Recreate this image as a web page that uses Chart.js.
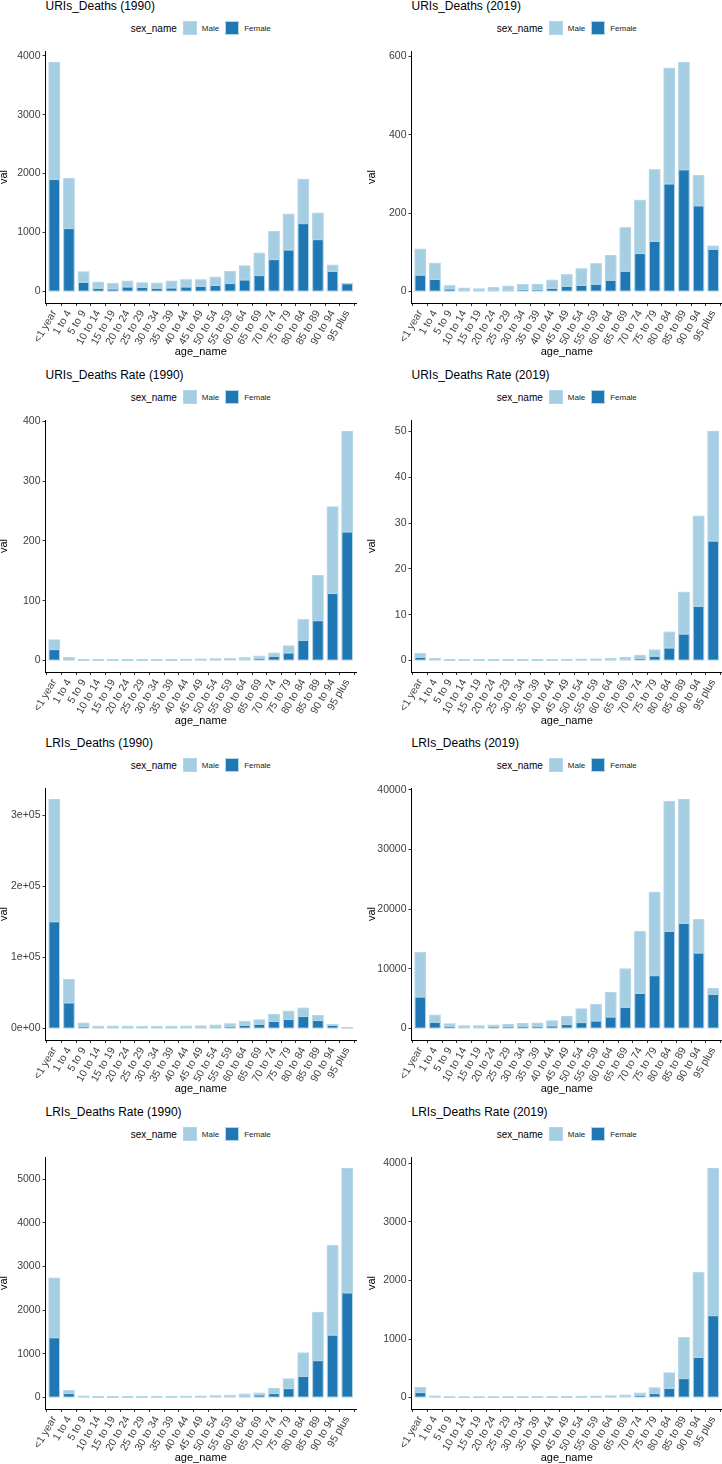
<!DOCTYPE html>
<html>
<head>
<meta charset="utf-8">
<script src="https://cdn.jsdelivr.net/npm/chart.js@4.4.1/dist/chart.umd.min.js"></script>
<style>
body { margin:0; background:#fff; width:722px; height:1464px; overflow:hidden; position:relative;
       font-family:"Liberation Sans", Arial, sans-serif; }
.panel { position:absolute; width:361px; height:368px; }
.panel canvas { position:absolute; left:0; top:0; }
.ttl { position:absolute; top:2px; font-size:12px; line-height:14px; color:#000; white-space:nowrap; }
.lgd { position:absolute; top:24px; height:14px; display:flex; align-items:center; justify-content:center; color:#000; }
.lgd .t { font-size:10px; margin-right:6px; }
.lgd .k { width:14px; height:14px; margin-right:5px; box-sizing:border-box; border:1px solid #B3D5E8; }
.lgd .l { font-size:8px; margin-right:6px; color:#222; }
</style>
</head>
<body>
<script>
// categories
const ageNames = ['<1 year','1 to 4','5 to 9','10 to 14','15 to 19','20 to 24','25 to 29','30 to 34','35 to 39',
  '40 to 44','45 to 49','50 to 54','55 to 59','60 to 64','65 to 69','70 to 74','75 to 79','80 to 84','85 to 89',
  '90 to 94','95 plus'];
const sexNames = ['Male', 'Female'];

// URIs deaths 1990
const uriDeaths1990Male   = [1985, 847, 176, 101, 90, 96, 74, 85, 113, 119, 108, 141, 203, 237, 378, 475, 604, 751, 446, 102, 3];
const uriDeaths1990Female = [1900, 1068, 157, 56, 45, 79, 73, 56, 62, 79, 90, 102, 136, 198, 271, 542, 706, 1152, 881, 344, 133];
const uriDeaths1990Ticks  = [0, 1000, 2000, 3000, 4000];
const uriDeaths1990Labels = ['0', '1000', '2000', '3000', '4000'];

// URIs deaths 2019
const uriDeaths2019Male   = [66, 41, 8.3, 5.1, 3.8, 6, 9.5, 13, 13, 20.6, 29.5, 42, 52.3, 63, 111, 136, 183, 295, 274, 77, 8];
const uriDeaths2019Female = [42, 31, 6.7, 3.3, 3, 4, 4, 5, 5, 8.4, 13.5, 16, 18.7, 29, 52, 97, 128, 275, 311, 219, 108];
const uriDeaths2019Ticks  = [0, 200, 400, 600];
const uriDeaths2019Labels = ['0', '200', '400', '600'];

// URIs death rate 1990
const uriRate1990Male   = [16.1, 2.2, 0.9, 0.7, 0.8, 0.8, 0.8, 0.9, 1.0, 1.1, 1.3, 1.5, 1.8, 2.2, 3.3, 5.0, 11.6, 34.4, 75.3, 144.7, 167.8];
const uriRate1990Female = [18.3, 2.8, 0.7, 0.5, 0.5, 0.6, 0.6, 0.6, 0.7, 0.9, 1.0, 1.3, 1.7, 2.3, 3.9, 7.2, 12.8, 33.9, 66.7, 112, 215];
const uriRate1990Ticks  = [0, 100, 200, 300, 400];
const uriRate1990Labels = ['0', '100', '200', '300', '400'];

// URIs death rate 2019
const uriRate2019Male   = [0.8, 0.22, 0.1, 0.09, 0.1, 0.1, 0.11, 0.12, 0.11, 0.12, 0.15, 0.16, 0.17, 0.24, 0.35, 0.6, 1.35, 3.44, 9.1, 19.65, 23.9];
const uriRate2019Female = [0.73, 0.22, 0.08, 0.07, 0.07, 0.08, 0.08, 0.08, 0.09, 0.1, 0.1, 0.12, 0.13, 0.18, 0.3, 0.5, 0.95, 2.76, 5.8, 11.85, 26.1];
const uriRate2019Ticks  = [0, 10, 20, 30, 40, 50];
const uriRate2019Labels = ['0', '10', '20', '30', '40', '50'];

// LRIs deaths 1990
const lriDeaths1990Male   = [172000, 32900, 4700, 1600, 1700, 1600, 1600, 1500, 1700, 1800, 2000, 2350, 3800, 5200, 6100, 9800, 11700, 11800, 7000, 900, 460];
const lriDeaths1990Female = [150400, 36200, 2800, 1400, 1500, 1400, 1300, 1300, 1300, 1500, 1600, 2350, 2800, 4700, 6100, 9900, 12700, 16900, 11300, 4700, 940];
const lriDeaths1990Ticks  = [0, 100000, 200000, 300000];
const lriDeaths1990Labels = ['0e+00', '1e+05', '2e+05', '3e+05'];

// LRIs deaths 2019
const lriDeaths2019Male   = [7420, 1170, 390, 230, 230, 230, 340, 450, 500, 830, 1340, 2290, 2740, 4080, 6420, 10330, 13950, 21770, 20760, 5580, 950];
const lriDeaths2019Female = [5300, 1060, 390, 220, 220, 330, 330, 390, 390, 450, 670, 1000, 1280, 1950, 3570, 5910, 8870, 16290, 17630, 12670, 5750];
const lriDeaths2019Ticks  = [0, 10000, 20000, 30000, 40000];
const lriDeaths2019Labels = ['0', '10000', '20000', '30000', '40000'];

// LRIs death rate 1990
const lriRate1990Male   = [1362, 69, 15, 11, 12, 12, 12, 12, 13, 15, 16, 20, 24, 38, 38, 114, 221, 533, 1103, 2047, 2846];
const lriRate1990Female = [1370, 91, 15, 9, 9, 10, 10, 11, 12, 13, 14, 20, 24, 38, 61, 91, 205, 487, 845, 1431, 2397];
const lriRate1990Ticks  = [0, 1000, 2000, 3000, 4000, 5000];
const lriRate1990Labels = ['0', '1000', '2000', '3000', '4000', '5000'];

// LRIs death rate 2019
const lriRate2019Male   = [86, 12, 5, 5, 5, 6, 5, 6, 7, 8, 9, 11, 13, 16, 23, 34, 97, 262, 700, 1445, 2515];
const lriRate2019Female = [85, 11, 5, 4, 4, 4, 5, 5, 5, 6, 7, 8, 9, 12, 17, 40, 68, 159, 324, 689, 1400];
const lriRate2019Ticks  = [0, 1000, 2000, 3000, 4000];
const lriRate2019Labels = ['0', '1000', '2000', '3000', '4000'];

const maleColor = '#A6CEE3';
const femaleColor = '#1F78B4';
const outlineColor = '#B3D5E8';

const panels = [
  { title: 'URIs_Deaths (1990)', male: uriDeaths1990Male, female: uriDeaths1990Female, ticks: uriDeaths1990Ticks, labels: uriDeaths1990Labels },
  { title: 'URIs_Deaths (2019)', male: uriDeaths2019Male, female: uriDeaths2019Female, ticks: uriDeaths2019Ticks, labels: uriDeaths2019Labels },
  { title: 'URIs_Deaths Rate (1990)', male: uriRate1990Male, female: uriRate1990Female, ticks: uriRate1990Ticks, labels: uriRate1990Labels },
  { title: 'URIs_Deaths Rate (2019)', male: uriRate2019Male, female: uriRate2019Female, ticks: uriRate2019Ticks, labels: uriRate2019Labels },
  { title: 'LRIs_Deaths (1990)', male: lriDeaths1990Male, female: lriDeaths1990Female, ticks: lriDeaths1990Ticks, labels: lriDeaths1990Labels },
  { title: 'LRIs_Deaths (2019)', male: lriDeaths2019Male, female: lriDeaths2019Female, ticks: lriDeaths2019Ticks, labels: lriDeaths2019Labels },
  { title: 'LRIs_Deaths Rate (1990)', male: lriRate1990Male, female: lriRate1990Female, ticks: lriRate1990Ticks, labels: lriRate1990Labels },
  { title: 'LRIs_Deaths Rate (2019)', male: lriRate2019Male, female: lriRate2019Female, ticks: lriRate2019Ticks, labels: lriRate2019Labels }
];

const colX = [0, 361];
const rowY = [-3, 366, 734, 1103];
const axisFont = { family: '"Liberation Sans", Arial, sans-serif', size: 10.5 };

// thin outline round every bar, drawn like ggplot's colour= (so tiny bars still show as a line)
const barOutline = {
  id: 'barOutline',
  afterDatasetsDraw(chart) {
    const ctx = chart.ctx;
    ctx.save();
    ctx.strokeStyle = outlineColor;
    ctx.lineWidth = 1;
    chart.data.datasets.forEach((ds, di) => {
      chart.getDatasetMeta(di).data.forEach(bar => {
        const { x, y, base, width } = bar.getProps(['x', 'y', 'base', 'width'], true);
        ctx.strokeRect(x - width / 2, Math.min(y, base), width, Math.abs(base - y));
      });
    });
    ctx.restore();
  }
};

function makePanel(p, idx) {
  const col = idx % 2, row = Math.floor(idx / 2);
  const plotL = col === 0 ? 45.5 : 50.5;
  const plotR = col === 0 ? 356 : 361;

  const div = document.createElement('div');
  div.className = 'panel';
  div.style.left = colX[col] + 'px';
  div.style.top = rowY[row] + 'px';

  const ttl = document.createElement('div');
  ttl.className = 'ttl';
  ttl.style.left = plotL + 'px';
  ttl.textContent = p.title;
  div.appendChild(ttl);

  const lgd = document.createElement('div');
  lgd.className = 'lgd';
  lgd.style.left = plotL + 'px';
  lgd.style.width = (plotR - plotL) + 'px';
  lgd.innerHTML = '<span class="t">sex_name</span>' +
    '<span class="k" style="background:' + maleColor + '"></span><span class="l">' + sexNames[0] + '</span>' +
    '<span class="k" style="background:' + femaleColor + '"></span><span class="l" style="margin-right:0">' + sexNames[1] + '</span>';
  div.appendChild(lgd);

  const cv = document.createElement('canvas');
  cv.width = 361; cv.height = 368;
  div.appendChild(cv);
  document.body.appendChild(div);

  let maxTotal = 0;
  p.male.forEach((m, i) => { maxTotal = Math.max(maxTotal, m + p.female[i]); });

  new Chart(cv, {
    type: 'bar',
    data: {
      datasets: [
        { label: sexNames[1], data: p.female.map((v, i) => ({ x: i, y: v })), backgroundColor: femaleColor,
          borderWidth: 0, barPercentage: 0.72, categoryPercentage: 1 },
        { label: sexNames[0], data: p.male.map((v, i) => ({ x: i, y: v })), backgroundColor: maleColor,
          borderWidth: 0, barPercentage: 0.72, categoryPercentage: 1 }
      ]
    },
    options: {
      responsive: false,
      animation: false,
      devicePixelRatio: 1,
      layout: { padding: { top: 54, left: 0, right: 361 - plotR, bottom: 0 } },
      plugins: { legend: { display: false }, tooltip: { enabled: false } },
      scales: {
        x: {
          type: 'linear', stacked: true, min: -0.6, max: 20.6, offset: false,
          afterBuildTicks: s => { s.ticks = ageNames.map((n, i) => ({ value: i })); },
          afterFit: s => { s.height = 62; s.paddingLeft = 0; s.paddingRight = 0; },
          ticks: { autoSkip: false, minRotation: 60, maxRotation: 60, padding: 2, color: '#404040', font: axisFont,
                   callback: (v, i) => ageNames[i] },
          grid: { drawOnChartArea: false, drawTicks: true, tickLength: 3, color: '#333' },
          border: { display: true, color: '#000', width: 1 },
          title: { display: true, text: 'age_name', color: '#000', font: { family: axisFont.family, size: 11 },
                   padding: { top: 0, bottom: 6.4 } }
        },
        y: {
          stacked: true, min: -0.05 * maxTotal, max: 1.05 * maxTotal,
          afterBuildTicks: s => { s.ticks = p.ticks.map(v => ({ value: v })); },
          afterFit: s => { s.width = plotL; },
          ticks: { color: '#404040', font: axisFont, padding: 2, callback: (v, i) => p.labels[i] },
          grid: { drawOnChartArea: false, drawTicks: true, tickLength: 3, color: '#333' },
          border: { display: true, color: '#000', width: 1 },
          title: { display: true, text: 'val', color: '#000', font: { family: axisFont.family, size: 11, lineHeight: 0.8 },
                   padding: { top: col === 0 ? 0 : 7, bottom: 0 } }
        }
      }
    },
    plugins: [barOutline]
  });
}

panels.forEach(makePanel);
</script>
</body>
</html>
